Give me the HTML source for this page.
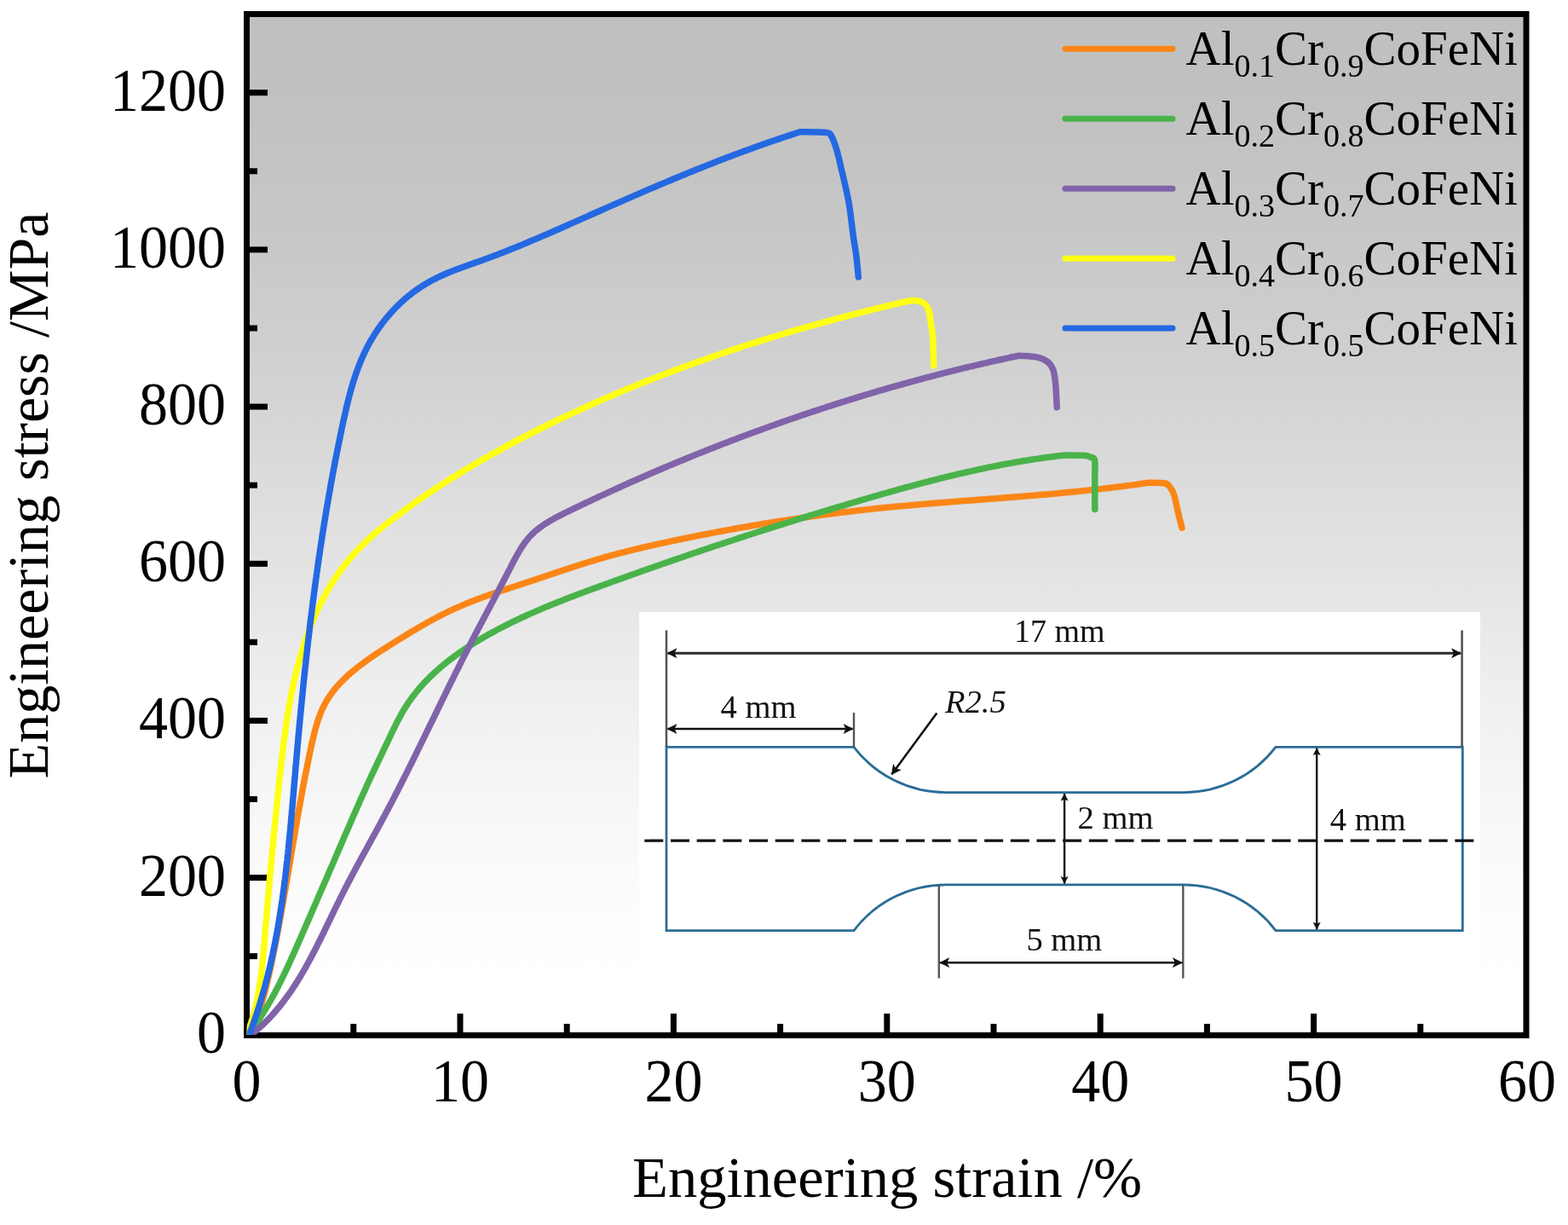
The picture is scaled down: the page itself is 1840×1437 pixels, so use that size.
<!DOCTYPE html><html><head><meta charset="utf-8"><title>Engineering stress-strain curves</title>
<style>html,body{margin:0;padding:0;background:#fff;}svg{display:block;}text{font-family:'Liberation Serif', 'Times New Roman', serif;}</style></head><body>
<svg width="1840" height="1437" viewBox="0 0 1840 1437">
<defs><linearGradient id="bg" x1="0" y1="0" x2="0" y2="1"><stop offset="0.000" stop-color="rgb(192.0,192.0,192.0)"/><stop offset="0.042" stop-color="rgb(192.3,192.3,192.3)"/><stop offset="0.083" stop-color="rgb(193.2,193.2,193.2)"/><stop offset="0.125" stop-color="rgb(194.7,194.7,194.7)"/><stop offset="0.167" stop-color="rgb(196.7,196.7,196.7)"/><stop offset="0.208" stop-color="rgb(199.1,199.1,199.1)"/><stop offset="0.250" stop-color="rgb(201.8,201.8,201.8)"/><stop offset="0.292" stop-color="rgb(205.0,205.0,205.0)"/><stop offset="0.333" stop-color="rgb(208.3,208.3,208.3)"/><stop offset="0.375" stop-color="rgb(211.9,211.9,211.9)"/><stop offset="0.417" stop-color="rgb(215.7,215.7,215.7)"/><stop offset="0.458" stop-color="rgb(219.6,219.6,219.6)"/><stop offset="0.500" stop-color="rgb(223.5,223.5,223.5)"/><stop offset="0.542" stop-color="rgb(227.4,227.4,227.4)"/><stop offset="0.583" stop-color="rgb(231.3,231.3,231.3)"/><stop offset="0.625" stop-color="rgb(235.1,235.1,235.1)"/><stop offset="0.667" stop-color="rgb(238.7,238.7,238.7)"/><stop offset="0.708" stop-color="rgb(242.0,242.0,242.0)"/><stop offset="0.750" stop-color="rgb(245.2,245.2,245.2)"/><stop offset="0.792" stop-color="rgb(247.9,247.9,247.9)"/><stop offset="0.833" stop-color="rgb(250.3,250.3,250.3)"/><stop offset="0.875" stop-color="rgb(252.3,252.3,252.3)"/><stop offset="0.917" stop-color="rgb(253.8,253.8,253.8)"/><stop offset="0.958" stop-color="rgb(254.7,254.7,254.7)"/><stop offset="1.000" stop-color="rgb(255.0,255.0,255.0)"/></linearGradient><marker id="ah" viewBox="0 0 12 12" refX="11" refY="6" markerWidth="12" markerHeight="12" markerUnits="userSpaceOnUse" orient="auto-start-reverse"><path d="M0 0 L12 6 L0 12 L3 6 Z" fill="#111"/></marker><marker id="ahs" viewBox="0 0 10 10" refX="9.5" refY="5" markerWidth="9" markerHeight="10" markerUnits="userSpaceOnUse" orient="auto-start-reverse"><path d="M0 0 L10 5 L0 10 L2 5 Z" fill="#111"/></marker><clipPath id="plotclip"><rect x="289.6" y="16.5" width="1501.4" height="1197.3"/></clipPath></defs>
<rect x="0" y="0" width="1840" height="1437" fill="#fff"/>
<rect x="293" y="20" width="1495" height="1191" fill="url(#bg)"/>
<rect x="750" y="718" width="987" height="447" fill="#fff"/>
<g fill="none" stroke-linecap="butt"><path d="M1002 876.3 L782 876.3 L782 1091.6 L1002 1091.6 A136 136 0 0 1 1110 1037.8 L1389 1037.8 A136 136 0 0 1 1497 1091.6 L1716.3 1091.6 L1716.3 876.3 L1497 876.3 A136 136 0 0 1 1389 929.6 L1110 929.6 A136 136 0 0 1 1002 876.3 Z" stroke="#2a6d97" stroke-width="2.8"/><line x1="756.3" y1="986.2" x2="1732" y2="986.2" stroke="#111" stroke-width="3.2" stroke-dasharray="22 8.68"/><line x1="782" y1="739.4" x2="782" y2="876" stroke="#555" stroke-width="2.6"/><line x1="1715.6" y1="739.4" x2="1715.6" y2="876" stroke="#555" stroke-width="2.6"/><line x1="1002" y1="836" x2="1002" y2="876" stroke="#555" stroke-width="2.4"/><line x1="1101.8" y1="1037.8" x2="1101.8" y2="1147.6" stroke="#555" stroke-width="2.4"/><line x1="1388.3" y1="1037.8" x2="1388.3" y2="1147.6" stroke="#555" stroke-width="2.4"/><line x1="783.5" y1="766.2" x2="1714" y2="766.2" stroke="#2a2a2a" stroke-width="3" marker-start="url(#ah)" marker-end="url(#ah)"/><line x1="783.5" y1="855" x2="1000.5" y2="855" stroke="#111" stroke-width="2.4" marker-start="url(#ah)" marker-end="url(#ah)"/><line x1="1249.1" y1="931" x2="1249.1" y2="1036.5" stroke="#111" stroke-width="2.4" marker-start="url(#ahs)" marker-end="url(#ahs)"/><line x1="1545.2" y1="877.6" x2="1545.2" y2="1090.3" stroke="#111" stroke-width="2.4" marker-start="url(#ahs)" marker-end="url(#ahs)"/><line x1="1103.3" y1="1129.2" x2="1386.8" y2="1129.2" stroke="#111" stroke-width="2.4" marker-start="url(#ah)" marker-end="url(#ah)"/><line x1="1099.3" y1="836.6" x2="1046.5" y2="908.3" stroke="#111" stroke-width="2.6" marker-end="url(#ah)"/></g><g fill="#111" font-size="38.6"><text x="1190" y="753.4" font-size="38">17 mm</text><text x="845.6" y="842.4">4 mm</text><text x="1109" y="835.9" font-style="italic">R2.5</text><text x="1264.6" y="971.8">2 mm</text><text x="1560.8" y="973.6">4 mm</text><text x="1204.4" y="1114.6">5 mm</text></g>
<rect x="289.5" y="16.5" width="1501.5" height="1198" fill="none" stroke="#000" stroke-width="7"/>
<rect x="411.3" y="1201.0" width="7" height="10.0" fill="#000"/><rect x="536.5" y="1189.0" width="7" height="22.0" fill="#000"/><rect x="661.7" y="1201.0" width="7" height="10.0" fill="#000"/><rect x="786.9" y="1189.0" width="7" height="22.0" fill="#000"/><rect x="912.1" y="1201.0" width="7" height="10.0" fill="#000"/><rect x="1037.3" y="1189.0" width="7" height="22.0" fill="#000"/><rect x="1162.5" y="1201.0" width="7" height="10.0" fill="#000"/><rect x="1287.7" y="1189.0" width="7" height="22.0" fill="#000"/><rect x="1412.9" y="1201.0" width="7" height="10.0" fill="#000"/><rect x="1538.1" y="1189.0" width="7" height="22.0" fill="#000"/><rect x="1663.3" y="1201.0" width="7" height="10.0" fill="#000"/><rect x="293" y="1118.2" width="9.0" height="7" fill="#000"/><rect x="293" y="1026.1" width="21.0" height="7" fill="#000"/><rect x="293" y="934.0" width="9.0" height="7" fill="#000"/><rect x="293" y="841.9" width="21.0" height="7" fill="#000"/><rect x="293" y="749.8" width="9.0" height="7" fill="#000"/><rect x="293" y="657.8" width="21.0" height="7" fill="#000"/><rect x="293" y="565.7" width="9.0" height="7" fill="#000"/><rect x="293" y="473.6" width="21.0" height="7" fill="#000"/><rect x="293" y="381.5" width="9.0" height="7" fill="#000"/><rect x="293" y="289.4" width="21.0" height="7" fill="#000"/><rect x="293" y="197.3" width="9.0" height="7" fill="#000"/><rect x="293" y="105.2" width="21.0" height="7" fill="#000"/>
<g clip-path="url(#plotclip)">
<path d="M289.9 1214.0 L291.4 1212.0 L292.8 1209.9 L294.2 1207.8 L295.4 1205.7 L296.6 1203.6 L297.8 1201.4 L298.9 1199.2 L299.9 1197.0 L300.9 1194.7 L301.9 1192.4 L302.8 1190.1 L303.6 1187.8 L304.5 1185.5 L305.2 1183.1 L306.0 1180.8 L306.7 1178.4 L307.4 1176.0 L308.1 1173.6 L308.8 1171.2 L309.4 1168.8 L310.1 1166.3 L310.7 1163.9 L311.3 1161.5 L311.9 1159.1 L312.5 1156.6 L313.1 1154.2 L313.7 1151.7 L314.2 1149.3 L314.8 1146.8 L315.4 1144.4 L315.9 1141.9 L316.5 1139.5 L317.0 1137.0 L317.6 1134.6 L318.1 1132.1 L318.6 1129.7 L319.1 1127.2 L319.7 1124.7 L320.2 1122.3 L320.7 1119.8 L321.2 1117.3 L321.7 1114.9 L322.2 1112.4 L322.6 1109.9 L323.1 1107.5 L323.6 1105.0 L324.1 1102.5 L324.6 1100.1 L325.0 1097.6 L325.5 1095.1 L326.0 1092.7 L326.4 1090.2 L326.9 1087.7 L327.3 1085.3 L327.8 1082.8 L328.2 1080.3 L328.7 1077.9 L329.1 1075.4 L329.6 1072.9 L330.0 1070.5 L330.5 1068.0 L330.9 1065.5 L331.4 1063.1 L331.8 1060.6 L332.2 1058.1 L332.7 1055.7 L333.1 1053.2 L333.5 1050.7 L333.9 1048.3 L334.4 1045.8 L334.8 1043.3 L335.2 1040.9 L335.6 1038.4 L336.1 1035.9 L336.5 1033.5 L336.9 1031.0 L337.3 1028.5 L337.7 1026.1 L338.2 1023.6 L338.6 1021.1 L339.0 1018.7 L339.4 1016.2 L339.8 1013.8 L340.2 1011.3 L340.7 1008.8 L341.1 1006.4 L341.5 1003.9 L341.9 1001.4 L342.3 999.0 L342.7 996.5 L343.2 994.1 L343.6 991.6 L344.0 989.1 L344.4 986.7 L344.8 984.2 L345.3 981.7 L345.7 979.3 L346.1 976.8 L346.5 974.4 L346.9 971.9 L347.4 969.4 L347.8 967.0 L348.2 964.5 L348.6 962.0 L349.1 959.6 L349.5 957.1 L349.9 954.7 L350.4 952.2 L350.8 949.7 L351.2 947.3 L351.7 944.8 L352.1 942.3 L352.6 939.9 L353.0 937.4 L353.5 935.0 L353.9 932.5 L354.4 930.0 L354.8 927.6 L355.3 925.1 L355.7 922.6 L356.2 920.2 L356.7 917.7 L357.1 915.2 L357.6 912.8 L358.1 910.3 L358.6 907.8 L359.1 905.4 L359.6 902.9 L360.1 900.4 L360.6 897.9 L361.1 895.5 L361.6 893.0 L362.1 890.5 L362.6 888.0 L363.1 885.6 L363.6 883.1 L364.2 880.6 L364.7 878.1 L365.2 875.6 L365.8 873.2 L366.3 870.7 L366.9 868.2 L367.5 865.7 L368.1 863.2 L368.7 860.8 L369.3 858.3 L369.9 855.8 L370.6 853.4 L371.3 851.0 L372.0 848.6 L372.8 846.2 L373.5 843.8 L374.4 841.4 L375.2 839.1 L376.1 836.8 L377.1 834.5 L378.0 832.2 L379.1 830.0 L380.2 827.8 L381.3 825.6 L382.5 823.5 L383.7 821.4 L385.0 819.3 L386.3 817.3 L387.7 815.3 L389.1 813.3 L390.6 811.3 L392.1 809.4 L393.6 807.5 L395.2 805.6 L396.9 803.8 L398.5 802.0 L400.2 800.2 L401.9 798.4 L403.7 796.7 L405.5 795.0 L407.3 793.3 L409.1 791.6 L411.0 789.9 L412.9 788.3 L414.8 786.7 L416.8 785.1 L418.7 783.5 L420.7 782.0 L422.7 780.4 L424.7 778.9 L426.7 777.4 L428.8 775.9 L430.8 774.4 L432.9 773.0 L435.0 771.5 L437.1 770.1 L439.2 768.6 L441.3 767.2 L443.4 765.8 L445.6 764.4 L447.7 763.0 L449.9 761.7 L452.0 760.3 L454.2 758.9 L456.3 757.6 L458.5 756.2 L460.6 754.9 L462.8 753.6 L464.9 752.2 L467.0 750.9 L469.2 749.6 L471.3 748.2 L473.5 746.9 L475.6 745.6 L477.7 744.3 L479.9 743.0 L482.0 741.7 L484.1 740.4 L486.3 739.2 L488.4 737.9 L490.6 736.6 L492.7 735.4 L494.9 734.1 L497.0 732.9 L499.2 731.7 L501.3 730.4 L503.5 729.2 L505.7 728.0 L507.8 726.9 L510.0 725.7 L512.2 724.5 L514.4 723.4 L516.6 722.2 L518.8 721.1 L521.0 720.0 L523.2 718.9 L525.4 717.8 L527.7 716.7 L529.9 715.7 L532.2 714.6 L534.4 713.6 L536.7 712.6 L539.0 711.6 L541.3 710.6 L543.6 709.6 L545.9 708.6 L548.2 707.7 L550.5 706.8 L552.8 705.8 L555.2 704.9 L557.5 704.0 L559.9 703.1 L562.2 702.2 L564.6 701.4 L567.0 700.5 L569.3 699.6 L571.7 698.8 L574.1 697.9 L576.5 697.1 L578.9 696.3 L581.3 695.5 L583.7 694.6 L586.1 693.8 L588.5 693.0 L590.9 692.2 L593.3 691.4 L595.7 690.6 L598.1 689.8 L600.5 689.0 L602.9 688.3 L605.3 687.5 L607.7 686.7 L610.1 685.9 L612.5 685.1 L614.9 684.3 L617.3 683.5 L619.7 682.7 L622.1 681.9 L624.5 681.1 L626.8 680.3 L629.2 679.6 L631.6 678.8 L634.0 678.0 L636.4 677.2 L638.7 676.4 L641.1 675.6 L643.5 674.8 L645.8 674.0 L648.2 673.2 L650.6 672.4 L653.0 671.6 L655.3 670.8 L657.7 670.0 L660.1 669.2 L662.4 668.4 L664.8 667.6 L667.2 666.9 L669.5 666.1 L671.9 665.3 L674.3 664.5 L676.6 663.8 L679.0 663.0 L681.4 662.3 L683.7 661.5 L686.1 660.8 L688.5 660.0 L690.9 659.3 L693.3 658.5 L695.7 657.8 L698.0 657.1 L700.4 656.4 L702.8 655.7 L705.2 655.0 L707.6 654.3 L710.0 653.6 L712.4 652.9 L714.8 652.3 L717.3 651.6 L719.7 650.9 L722.1 650.3 L724.5 649.6 L726.9 649.0 L729.4 648.4 L731.8 647.8 L734.2 647.1 L736.7 646.5 L739.1 645.9 L741.5 645.3 L744.0 644.7 L746.4 644.1 L748.9 643.5 L751.3 643.0 L753.8 642.4 L756.2 641.8 L758.7 641.3 L761.1 640.7 L763.6 640.1 L766.0 639.6 L768.5 639.0 L770.9 638.5 L773.4 637.9 L775.8 637.4 L778.3 636.9 L780.8 636.3 L783.2 635.8 L785.7 635.3 L788.2 634.8 L790.6 634.2 L793.1 633.7 L795.5 633.2 L798.0 632.7 L800.5 632.2 L802.9 631.7 L805.4 631.2 L807.9 630.7 L810.3 630.2 L812.8 629.7 L815.3 629.2 L817.7 628.7 L820.2 628.2 L822.6 627.7 L825.1 627.2 L827.6 626.8 L830.0 626.3 L832.5 625.8 L835.0 625.3 L837.4 624.9 L839.9 624.4 L842.4 623.9 L844.8 623.5 L847.3 623.0 L849.8 622.5 L852.2 622.1 L854.7 621.6 L857.2 621.2 L859.6 620.7 L862.1 620.3 L864.6 619.8 L867.0 619.4 L869.5 619.0 L872.0 618.5 L874.4 618.1 L876.9 617.7 L879.4 617.2 L881.8 616.8 L884.3 616.4 L886.8 616.0 L889.2 615.5 L891.7 615.1 L894.2 614.7 L896.6 614.3 L899.1 613.9 L901.6 613.5 L904.1 613.1 L906.5 612.7 L909.0 612.3 L911.5 611.9 L913.9 611.5 L916.4 611.1 L918.9 610.7 L921.4 610.4 L923.8 610.0 L926.3 609.6 L928.8 609.2 L931.3 608.9 L933.7 608.5 L936.2 608.1 L938.7 607.8 L941.2 607.4 L943.6 607.0 L946.1 606.7 L948.6 606.3 L951.1 606.0 L953.5 605.6 L956.0 605.3 L958.5 605.0 L961.0 604.6 L963.5 604.3 L965.9 603.9 L968.4 603.6 L970.9 603.3 L973.4 603.0 L975.9 602.6 L978.3 602.3 L980.8 602.0 L983.3 601.7 L985.8 601.4 L988.3 601.1 L990.7 600.8 L993.2 600.5 L995.7 600.2 L998.2 599.9 L1000.7 599.6 L1003.2 599.3 L1005.7 599.0 L1008.1 598.7 L1010.6 598.4 L1013.1 598.2 L1015.6 597.9 L1018.1 597.6 L1020.6 597.4 L1023.1 597.1 L1025.6 596.8 L1028.1 596.6 L1030.5 596.3 L1033.0 596.0 L1035.5 595.8 L1038.0 595.5 L1040.5 595.3 L1043.0 595.1 L1045.5 594.8 L1048.0 594.6 L1050.5 594.3 L1053.0 594.1 L1055.5 593.9 L1058.0 593.6 L1060.5 593.4 L1063.0 593.2 L1065.5 593.0 L1068.0 592.7 L1070.5 592.5 L1073.0 592.3 L1075.5 592.1 L1078.0 591.9 L1080.5 591.6 L1083.0 591.4 L1085.5 591.2 L1088.0 591.0 L1090.5 590.8 L1093.0 590.6 L1095.5 590.4 L1098.0 590.2 L1100.5 590.0 L1103.0 589.8 L1105.5 589.6 L1108.0 589.4 L1110.5 589.2 L1113.0 589.0 L1115.5 588.8 L1118.0 588.6 L1120.5 588.4 L1123.0 588.2 L1125.5 588.0 L1128.0 587.8 L1130.5 587.6 L1133.0 587.4 L1135.5 587.2 L1138.0 587.1 L1140.5 586.9 L1143.0 586.7 L1145.5 586.5 L1148.0 586.3 L1150.5 586.1 L1153.0 585.9 L1155.5 585.7 L1158.0 585.5 L1160.5 585.3 L1163.0 585.1 L1165.6 584.9 L1168.1 584.8 L1170.6 584.6 L1173.1 584.4 L1175.6 584.2 L1178.1 584.0 L1180.6 583.8 L1183.1 583.6 L1185.6 583.4 L1188.1 583.2 L1190.6 583.0 L1193.1 582.8 L1195.6 582.6 L1198.1 582.4 L1200.6 582.2 L1203.1 582.0 L1205.6 581.8 L1208.1 581.6 L1210.6 581.4 L1213.1 581.2 L1215.6 581.0 L1218.1 580.7 L1220.6 580.5 L1223.1 580.3 L1225.6 580.1 L1228.1 579.9 L1230.6 579.7 L1233.1 579.4 L1235.6 579.2 L1238.1 579.0 L1240.6 578.8 L1243.1 578.5 L1245.6 578.3 L1248.1 578.1 L1250.6 577.8 L1253.1 577.6 L1255.6 577.3 L1258.1 577.1 L1260.6 576.9 L1263.1 576.6 L1265.6 576.4 L1268.1 576.1 L1270.6 575.8 L1273.1 575.6 L1275.6 575.3 L1278.1 575.1 L1280.6 574.8 L1283.1 574.5 L1285.5 574.2 L1288.0 574.0 L1290.5 573.7 L1293.0 573.4 L1295.5 573.1 L1298.0 572.8 L1300.5 572.5 L1303.0 572.2 L1305.5 571.9 L1308.0 571.6 L1310.4 571.3 L1312.9 571.0 L1315.4 570.7 L1317.9 570.4 L1320.4 570.0 L1322.9 569.7 L1325.4 569.4 L1327.8 569.1 L1330.3 568.7 L1332.8 568.4 L1335.3 568.0 L1337.8 567.7 L1340.2 567.3 L1342.7 567.0 L1345.2 566.6 L1347.7 566.2 C1351.0 566.3 1363.0 565.9 1367.4 567.0 C1371.8 568.1 1372.2 570.5 1374.0 573.0 C1375.8 575.5 1376.9 577.4 1378.3 582.2 C1379.7 587.0 1381.1 595.6 1382.6 601.7 C1384.0 607.9 1386.3 616.2 1387.0 619.1" fill="none" stroke="#fb8617" stroke-width="7.5" stroke-linejoin="round" stroke-linecap="round"/>
<path d="M290.7 1214.6 L292.2 1212.6 L293.7 1210.7 L295.2 1208.6 L296.6 1206.6 L298.1 1204.6 L299.5 1202.6 L300.9 1200.5 L302.3 1198.5 L303.7 1196.4 L305.0 1194.3 L306.4 1192.2 L307.7 1190.1 L309.0 1188.0 L310.3 1185.9 L311.6 1183.8 L312.9 1181.6 L314.2 1179.5 L315.4 1177.3 L316.7 1175.1 L317.9 1173.0 L319.1 1170.8 L320.3 1168.6 L321.5 1166.4 L322.7 1164.2 L323.8 1162.0 L325.0 1159.8 L326.1 1157.6 L327.3 1155.3 L328.4 1153.1 L329.5 1150.9 L330.6 1148.6 L331.7 1146.4 L332.8 1144.1 L333.9 1141.8 L335.0 1139.6 L336.0 1137.3 L337.1 1135.0 L338.2 1132.8 L339.2 1130.5 L340.3 1128.2 L341.3 1125.9 L342.3 1123.6 L343.4 1121.4 L344.4 1119.1 L345.4 1116.8 L346.4 1114.5 L347.4 1112.2 L348.5 1109.9 L349.5 1107.6 L350.5 1105.3 L351.5 1103.0 L352.5 1100.7 L353.5 1098.4 L354.5 1096.1 L355.5 1093.8 L356.5 1091.5 L357.5 1089.2 L358.5 1086.9 L359.5 1084.6 L360.5 1082.3 L361.5 1080.1 L362.5 1077.8 L363.5 1075.5 L364.5 1073.2 L365.5 1070.9 L366.5 1068.6 L367.5 1066.3 L368.5 1064.0 L369.5 1061.7 L370.5 1059.4 L371.5 1057.2 L372.4 1054.9 L373.4 1052.6 L374.4 1050.3 L375.4 1048.0 L376.4 1045.7 L377.4 1043.4 L378.4 1041.1 L379.4 1038.9 L380.4 1036.6 L381.4 1034.3 L382.4 1032.0 L383.4 1029.7 L384.4 1027.4 L385.3 1025.1 L386.3 1022.9 L387.3 1020.6 L388.3 1018.3 L389.3 1016.0 L390.3 1013.7 L391.3 1011.4 L392.3 1009.1 L393.3 1006.8 L394.2 1004.6 L395.2 1002.3 L396.2 1000.0 L397.2 997.7 L398.2 995.4 L399.2 993.1 L400.2 990.8 L401.2 988.5 L402.1 986.2 L403.1 983.9 L404.1 981.6 L405.1 979.3 L406.1 977.1 L407.1 974.8 L408.1 972.5 L409.1 970.2 L410.1 967.9 L411.1 965.6 L412.1 963.3 L413.0 961.0 L414.0 958.7 L415.0 956.4 L416.0 954.1 L417.1 951.8 L418.1 949.5 L419.1 947.2 L420.1 945.0 L421.1 942.7 L422.1 940.4 L423.1 938.1 L424.1 935.8 L425.2 933.5 L426.2 931.2 L427.2 928.9 L428.2 926.7 L429.3 924.4 L430.3 922.1 L431.3 919.8 L432.4 917.5 L433.4 915.3 L434.5 913.0 L435.5 910.7 L436.6 908.4 L437.7 906.2 L438.7 903.9 L439.8 901.6 L440.9 899.4 L442.0 897.1 L443.0 894.8 L444.1 892.6 L445.2 890.3 L446.3 888.0 L447.4 885.8 L448.5 883.5 L449.5 881.2 L450.6 878.9 L451.7 876.7 L452.8 874.4 L453.9 872.1 L455.0 869.8 L456.1 867.5 L457.2 865.2 L458.3 862.9 L459.3 860.6 L460.4 858.3 L461.5 856.1 L462.6 853.8 L463.8 851.5 L464.9 849.2 L466.0 847.0 L467.2 844.7 L468.4 842.5 L469.6 840.2 L470.8 838.0 L472.0 835.8 L473.3 833.7 L474.6 831.5 L475.9 829.4 L477.3 827.3 L478.6 825.2 L480.0 823.2 L481.5 821.1 L482.9 819.1 L484.4 817.1 L485.9 815.2 L487.4 813.2 L489.0 811.3 L490.5 809.4 L492.1 807.5 L493.7 805.6 L495.4 803.8 L497.0 801.9 L498.7 800.1 L500.4 798.4 L502.1 796.6 L503.9 794.8 L505.7 793.1 L507.4 791.4 L509.2 789.7 L511.1 788.0 L512.9 786.4 L514.8 784.7 L516.6 783.1 L518.5 781.5 L520.4 779.9 L522.3 778.3 L524.3 776.8 L526.2 775.2 L528.2 773.7 L530.2 772.2 L532.2 770.7 L534.2 769.2 L536.2 767.8 L538.2 766.3 L540.3 764.9 L542.3 763.5 L544.4 762.1 L546.5 760.7 L548.6 759.3 L550.7 758.0 L552.8 756.6 L554.9 755.3 L557.0 754.0 L559.1 752.6 L561.3 751.4 L563.4 750.1 L565.6 748.8 L567.7 747.5 L569.9 746.3 L572.1 745.0 L574.2 743.8 L576.4 742.6 L578.6 741.4 L580.8 740.2 L583.0 739.0 L585.2 737.9 L587.4 736.7 L589.7 735.5 L591.9 734.4 L594.1 733.3 L596.4 732.1 L598.6 731.0 L600.8 729.9 L603.1 728.8 L605.4 727.8 L607.6 726.7 L609.9 725.6 L612.2 724.5 L614.4 723.5 L616.7 722.5 L619.0 721.4 L621.3 720.4 L623.6 719.4 L625.9 718.4 L628.2 717.4 L630.5 716.4 L632.8 715.4 L635.1 714.4 L637.4 713.4 L639.8 712.4 L642.1 711.5 L644.4 710.5 L646.7 709.6 L649.1 708.6 L651.4 707.7 L653.7 706.7 L656.1 705.8 L658.4 704.9 L660.8 704.0 L663.1 703.0 L665.5 702.1 L667.8 701.2 L670.2 700.3 L672.5 699.4 L674.9 698.5 L677.2 697.6 L679.6 696.7 L682.0 695.8 L684.3 695.0 L686.7 694.1 L689.0 693.2 L691.4 692.3 L693.8 691.5 L696.1 690.6 L698.5 689.7 L700.9 688.9 L703.2 688.0 L705.6 687.1 L708.0 686.3 L710.3 685.4 L712.7 684.5 L715.1 683.7 L717.4 682.8 L719.8 682.0 L722.2 681.1 L724.5 680.3 L726.9 679.4 L729.3 678.6 L731.6 677.7 L734.0 676.9 L736.4 676.0 L738.7 675.2 L741.1 674.3 L743.5 673.5 L745.8 672.7 L748.2 671.8 L750.6 671.0 L752.9 670.1 L755.3 669.3 L757.7 668.5 L760.0 667.6 L762.4 666.8 L764.8 666.0 L767.1 665.2 L769.5 664.3 L771.9 663.5 L774.2 662.7 L776.6 661.8 L779.0 661.0 L781.3 660.2 L783.7 659.4 L786.1 658.6 L788.4 657.7 L790.8 656.9 L793.2 656.1 L795.5 655.3 L797.9 654.5 L800.3 653.7 L802.7 652.9 L805.0 652.0 L807.4 651.2 L809.8 650.4 L812.1 649.6 L814.5 648.8 L816.9 648.0 L819.2 647.2 L821.6 646.4 L824.0 645.6 L826.4 644.8 L828.7 644.0 L831.1 643.2 L833.5 642.4 L835.9 641.6 L838.2 640.8 L840.6 640.0 L843.0 639.3 L845.3 638.5 L847.7 637.7 L850.1 636.9 L852.5 636.1 L854.8 635.3 L857.2 634.5 L859.6 633.8 L862.0 633.0 L864.3 632.2 L866.7 631.4 L869.1 630.6 L871.5 629.9 L873.9 629.1 L876.2 628.3 L878.6 627.5 L881.0 626.8 L883.4 626.0 L885.8 625.2 L888.1 624.5 L890.5 623.7 L892.9 622.9 L895.3 622.2 L897.7 621.4 L900.0 620.6 L902.4 619.9 L904.8 619.1 L907.2 618.4 L909.6 617.6 L912.0 616.9 L914.3 616.1 L916.7 615.3 L919.1 614.6 L921.5 613.8 L923.9 613.1 L926.3 612.3 L928.7 611.6 L931.1 610.9 L933.4 610.1 L935.8 609.4 L938.2 608.6 L940.6 607.9 L943.0 607.1 L945.4 606.4 L947.8 605.7 L950.2 604.9 L952.6 604.2 L955.0 603.5 L957.4 602.7 L959.8 602.0 L962.2 601.3 L964.5 600.5 L966.9 599.8 L969.3 599.1 L971.7 598.3 L974.1 597.6 L976.5 596.9 L978.9 596.2 L981.3 595.4 L983.7 594.7 L986.1 594.0 L988.5 593.3 L991.0 592.6 L993.4 591.9 L995.8 591.1 L998.2 590.4 L1000.6 589.7 L1003.0 589.0 L1005.4 588.3 L1007.8 587.6 L1010.2 586.9 L1012.6 586.2 L1015.0 585.5 L1017.4 584.8 L1019.8 584.0 L1022.3 583.3 L1024.7 582.6 L1027.1 582.0 L1029.5 581.3 L1031.9 580.6 L1034.3 579.9 L1036.7 579.2 L1039.2 578.5 L1041.6 577.8 L1044.0 577.1 L1046.4 576.4 L1048.8 575.8 L1051.3 575.1 L1053.7 574.4 L1056.1 573.7 L1058.5 573.1 L1061.0 572.4 L1063.4 571.7 L1065.8 571.1 L1068.2 570.4 L1070.7 569.8 L1073.1 569.1 L1075.5 568.5 L1077.9 567.8 L1080.4 567.2 L1082.8 566.5 L1085.2 565.9 L1087.7 565.3 L1090.1 564.6 L1092.5 564.0 L1095.0 563.4 L1097.4 562.8 L1099.8 562.2 L1102.3 561.5 L1104.7 560.9 L1107.1 560.3 L1109.6 559.7 L1112.0 559.1 L1114.5 558.5 L1116.9 558.0 L1119.3 557.4 L1121.8 556.8 L1124.2 556.2 L1126.7 555.6 L1129.1 555.1 L1131.6 554.5 L1134.0 554.0 L1136.5 553.4 L1138.9 552.9 L1141.4 552.3 L1143.8 551.8 L1146.3 551.2 L1148.7 550.7 L1151.2 550.2 L1153.6 549.7 L1156.1 549.1 L1158.5 548.6 L1161.0 548.1 L1163.4 547.6 L1165.9 547.1 L1168.3 546.6 L1170.8 546.2 L1173.3 545.7 L1175.7 545.2 L1178.2 544.7 L1180.6 544.3 L1183.1 543.8 L1185.6 543.4 L1188.0 542.9 L1190.5 542.5 L1193.0 542.0 L1195.4 541.6 L1197.9 541.2 L1200.4 540.8 L1202.8 540.4 L1205.3 540.0 L1207.8 539.6 L1210.2 539.2 L1212.7 538.8 L1215.2 538.4 L1217.6 538.1 L1220.1 537.7 L1222.6 537.3 L1225.1 537.0 L1227.5 536.6 L1230.0 536.3 L1232.5 536.0 L1235.0 535.7 L1237.5 535.3 L1239.9 535.0 L1242.4 534.7 L1244.9 534.4 L1247.4 534.2 L1249.9 533.9 C1253.5 533.9 1266.8 533.9 1271.7 534.3 C1276.6 534.7 1276.9 535.1 1279.0 536.0 C1281.1 536.9 1283.5 535.8 1284.5 539.5 C1285.5 543.2 1284.8 548.3 1284.8 558.0 C1284.8 567.7 1284.8 590.9 1284.8 597.5" fill="none" stroke="#49b34a" stroke-width="7.5" stroke-linejoin="round" stroke-linecap="round"/>
<path d="M291.1 1216.3 L293.1 1214.8 L295.1 1213.3 L297.1 1211.7 L299.0 1210.2 L300.9 1208.6 L302.8 1207.0 L304.6 1205.3 L306.5 1203.7 L308.3 1202.0 L310.1 1200.3 L311.8 1198.6 L313.6 1196.8 L315.3 1195.1 L317.0 1193.3 L318.7 1191.5 L320.3 1189.7 L321.9 1187.9 L323.6 1186.0 L325.1 1184.1 L326.7 1182.3 L328.3 1180.4 L329.8 1178.4 L331.3 1176.5 L332.8 1174.6 L334.3 1172.6 L335.8 1170.6 L337.2 1168.6 L338.7 1166.6 L340.1 1164.6 L341.5 1162.6 L342.9 1160.5 L344.2 1158.5 L345.6 1156.4 L346.9 1154.3 L348.3 1152.2 L349.6 1150.1 L350.9 1148.0 L352.2 1145.9 L353.4 1143.7 L354.7 1141.6 L356.0 1139.4 L357.2 1137.3 L358.5 1135.1 L359.7 1132.9 L360.9 1130.7 L362.1 1128.5 L363.3 1126.3 L364.5 1124.1 L365.7 1121.9 L366.8 1119.6 L368.0 1117.4 L369.2 1115.2 L370.3 1112.9 L371.5 1110.7 L372.6 1108.4 L373.7 1106.1 L374.9 1103.9 L376.0 1101.6 L377.1 1099.3 L378.2 1097.1 L379.4 1094.8 L380.5 1092.5 L381.6 1090.2 L382.7 1088.0 L383.8 1085.7 L384.9 1083.4 L386.0 1081.1 L387.1 1078.8 L388.2 1076.5 L389.3 1074.3 L390.4 1072.0 L391.5 1069.7 L392.6 1067.4 L393.7 1065.1 L394.8 1062.9 L396.0 1060.6 L397.1 1058.3 L398.2 1056.0 L399.3 1053.8 L400.4 1051.5 L401.6 1049.3 L402.7 1047.0 L403.9 1044.8 L405.0 1042.5 L406.1 1040.3 L407.3 1038.1 L408.5 1035.8 L409.6 1033.6 L410.8 1031.4 L412.0 1029.2 L413.1 1026.9 L414.3 1024.7 L415.5 1022.5 L416.7 1020.3 L417.9 1018.1 L419.0 1015.9 L420.2 1013.7 L421.4 1011.5 L422.6 1009.3 L423.8 1007.1 L425.0 1004.9 L426.2 1002.7 L427.4 1000.5 L428.6 998.4 L429.8 996.2 L431.0 994.0 L432.2 991.8 L433.4 989.6 L434.6 987.4 L435.8 985.2 L437.0 983.0 L438.2 980.9 L439.4 978.7 L440.6 976.5 L441.8 974.3 L443.0 972.1 L444.2 969.9 L445.4 967.7 L446.6 965.5 L447.7 963.3 L448.9 961.1 L450.1 958.9 L451.3 956.7 L452.5 954.5 L453.6 952.3 L454.8 950.1 L456.0 947.9 L457.1 945.7 L458.3 943.5 L459.5 941.3 L460.6 939.1 L461.8 936.8 L462.9 934.6 L464.1 932.4 L465.2 930.2 L466.4 927.9 L467.5 925.7 L468.6 923.5 L469.8 921.2 L470.9 919.0 L472.0 916.8 L473.2 914.5 L474.3 912.3 L475.4 910.0 L476.6 907.8 L477.7 905.6 L478.8 903.3 L479.9 901.1 L481.0 898.8 L482.2 896.6 L483.3 894.3 L484.4 892.1 L485.5 889.8 L486.6 887.6 L487.7 885.3 L488.8 883.1 L489.9 880.8 L491.0 878.6 L492.2 876.3 L493.3 874.0 L494.4 871.8 L495.5 869.5 L496.6 867.3 L497.7 865.0 L498.8 862.8 L499.9 860.5 L501.0 858.2 L502.1 856.0 L503.2 853.7 L504.3 851.5 L505.4 849.2 L506.5 847.0 L507.6 844.7 L508.7 842.4 L509.8 840.2 L510.9 837.9 L512.0 835.7 L513.1 833.4 L514.2 831.1 L515.3 828.9 L516.4 826.6 L517.5 824.4 L518.6 822.1 L519.7 819.9 L520.8 817.6 L521.9 815.4 L523.0 813.1 L524.1 810.9 L525.2 808.6 L526.3 806.4 L527.4 804.1 L528.5 801.9 L529.6 799.6 L530.8 797.4 L531.9 795.1 L533.0 792.9 L534.1 790.6 L535.2 788.4 L536.3 786.2 L537.5 783.9 L538.6 781.7 L539.7 779.5 L540.8 777.2 L541.9 775.0 L543.1 772.8 L544.2 770.5 L545.3 768.3 L546.5 766.1 L547.6 763.9 L548.7 761.6 L549.9 759.4 L551.0 757.2 L552.2 755.0 L553.3 752.8 L554.5 750.6 L555.6 748.4 L556.8 746.2 L557.9 743.9 L559.1 741.7 L560.2 739.5 L561.4 737.3 L562.6 735.1 L563.7 732.9 L564.9 730.7 L566.0 728.5 L567.2 726.3 L568.4 724.1 L569.5 721.9 L570.7 719.7 L571.9 717.5 L573.0 715.3 L574.2 713.1 L575.4 710.9 L576.5 708.7 L577.7 706.5 L578.9 704.3 L580.0 702.1 L581.2 699.8 L582.4 697.6 L583.5 695.4 L584.7 693.2 L585.9 691.0 L587.0 688.8 L588.2 686.5 L589.4 684.3 L590.5 682.1 L591.7 679.8 L592.9 677.6 L594.0 675.4 L595.2 673.1 L596.3 670.9 L597.5 668.7 L598.7 666.4 L599.8 664.1 L601.0 661.9 L602.1 659.6 L603.3 657.4 L604.5 655.2 L605.7 653.0 L606.9 650.8 L608.2 648.6 L609.4 646.4 L610.7 644.3 L612.0 642.2 L613.4 640.1 L614.8 638.1 L616.2 636.1 L617.7 634.2 L619.2 632.3 L620.8 630.4 L622.4 628.7 L624.1 626.9 L625.9 625.2 L627.6 623.6 L629.5 622.0 L631.4 620.5 L633.3 619.0 L635.3 617.6 L637.3 616.2 L639.3 614.8 L641.4 613.5 L643.5 612.2 L645.6 610.9 L647.8 609.7 L650.0 608.4 L652.2 607.2 L654.4 606.1 L656.7 604.9 L658.9 603.8 L661.2 602.6 L663.4 601.5 L665.7 600.4 L668.0 599.3 L670.3 598.2 L672.5 597.1 L674.8 596.0 L677.1 594.9 L679.4 593.8 L681.7 592.7 L683.9 591.6 L686.2 590.5 L688.5 589.4 L690.8 588.4 L693.1 587.3 L695.3 586.2 L697.6 585.1 L699.9 584.1 L702.2 583.0 L704.5 581.9 L706.8 580.9 L709.1 579.8 L711.3 578.8 L713.6 577.7 L715.9 576.7 L718.2 575.6 L720.5 574.6 L722.8 573.5 L725.1 572.5 L727.4 571.5 L729.7 570.4 L731.9 569.4 L734.2 568.4 L736.5 567.3 L738.8 566.3 L741.1 565.3 L743.4 564.3 L745.7 563.3 L748.0 562.2 L750.3 561.2 L752.6 560.2 L754.9 559.2 L757.2 558.2 L759.5 557.2 L761.8 556.2 L764.1 555.2 L766.4 554.2 L768.7 553.3 L771.0 552.3 L773.3 551.3 L775.6 550.3 L777.9 549.3 L780.2 548.3 L782.5 547.4 L784.8 546.4 L787.1 545.4 L789.5 544.5 L791.8 543.5 L794.1 542.5 L796.4 541.6 L798.7 540.6 L801.0 539.7 L803.3 538.7 L805.6 537.8 L808.0 536.8 L810.3 535.9 L812.6 534.9 L814.9 534.0 L817.2 533.1 L819.6 532.1 L821.9 531.2 L824.2 530.3 L826.5 529.4 L828.9 528.4 L831.2 527.5 L833.5 526.6 L835.8 525.7 L838.2 524.8 L840.5 523.8 L842.8 522.9 L845.2 522.0 L847.5 521.1 L849.8 520.2 L852.2 519.3 L854.5 518.4 L856.8 517.5 L859.2 516.6 L861.5 515.8 L863.9 514.9 L866.2 514.0 L868.5 513.1 L870.9 512.2 L873.2 511.3 L875.6 510.5 L877.9 509.6 L880.3 508.7 L882.6 507.8 L885.0 507.0 L887.3 506.1 L889.7 505.3 L892.0 504.4 L894.4 503.5 L896.8 502.7 L899.1 501.8 L901.5 501.0 L903.8 500.1 L906.2 499.3 L908.6 498.5 L910.9 497.6 L913.3 496.8 L915.6 495.9 L918.0 495.1 L920.4 494.3 L922.7 493.5 L925.1 492.6 L927.5 491.8 L929.8 491.0 L932.2 490.2 L934.6 489.4 L937.0 488.5 L939.3 487.7 L941.7 486.9 L944.1 486.1 L946.5 485.3 L948.8 484.5 L951.2 483.7 L953.6 482.9 L956.0 482.1 L958.4 481.4 L960.8 480.6 L963.1 479.8 L965.5 479.0 L967.9 478.2 L970.3 477.4 L972.7 476.7 L975.1 475.9 L977.5 475.1 L979.8 474.4 L982.2 473.6 L984.6 472.8 L987.0 472.1 L989.4 471.3 L991.8 470.6 L994.2 469.8 L996.6 469.1 L999.0 468.3 L1001.4 467.6 L1003.8 466.9 L1006.2 466.1 L1008.6 465.4 L1011.0 464.7 L1013.4 463.9 L1015.8 463.2 L1018.2 462.5 L1020.6 461.8 L1023.0 461.0 L1025.4 460.3 L1027.8 459.6 L1030.2 458.9 L1032.6 458.2 L1035.1 457.5 L1037.5 456.8 L1039.9 456.1 L1042.3 455.4 L1044.7 454.7 L1047.1 454.0 L1049.5 453.3 L1051.9 452.6 L1054.4 452.0 L1056.8 451.3 L1059.2 450.6 L1061.6 449.9 L1064.0 449.3 L1066.4 448.6 L1068.9 447.9 L1071.3 447.3 L1073.7 446.6 L1076.1 445.9 L1078.5 445.3 L1081.0 444.6 L1083.4 444.0 L1085.8 443.3 L1088.2 442.7 L1090.7 442.1 L1093.1 441.4 L1095.5 440.8 L1097.9 440.2 L1100.4 439.5 L1102.8 438.9 L1105.2 438.3 L1107.7 437.7 L1110.1 437.0 L1112.5 436.4 L1115.0 435.8 L1117.4 435.2 L1119.8 434.6 L1122.3 434.0 L1124.7 433.4 L1127.1 432.8 L1129.6 432.2 L1132.0 431.6 L1134.4 431.0 L1136.9 430.4 L1139.3 429.9 L1141.8 429.3 L1144.2 428.7 L1146.6 428.1 L1149.1 427.6 L1151.5 427.0 L1154.0 426.4 L1156.4 425.9 L1158.8 425.3 L1161.3 424.7 L1163.7 424.2 L1166.2 423.6 L1168.6 423.1 L1171.1 422.5 L1173.5 422.0 L1175.9 421.5 L1178.4 420.9 L1180.8 420.4 L1183.3 419.9 L1185.7 419.3 L1188.2 418.8 L1190.6 418.3 L1193.1 417.8 L1195.5 417.3 C1199.2 417.6 1211.7 417.8 1217.4 419.1 C1223.1 420.4 1227.0 422.7 1230.0 425.0 C1233.0 427.3 1234.2 430.0 1235.5 433.0 C1236.8 436.0 1237.2 439.1 1237.8 443.0 C1238.4 446.9 1238.7 450.3 1239.1 456.1 C1239.5 461.9 1240.0 474.2 1240.2 477.8" fill="none" stroke="#8063a9" stroke-width="7.5" stroke-linejoin="round" stroke-linecap="round"/>
<path d="M289.6 1213.8 L290.5 1211.5 L291.4 1209.1 L292.3 1206.8 L293.1 1204.4 L293.9 1202.0 L294.7 1199.6 L295.4 1197.3 L296.2 1194.9 L296.9 1192.5 L297.6 1190.0 L298.2 1187.6 L298.8 1185.2 L299.4 1182.8 L300.0 1180.3 L300.6 1177.9 L301.1 1175.5 L301.6 1173.0 L302.1 1170.5 L302.6 1168.1 L303.1 1165.6 L303.5 1163.2 L303.9 1160.7 L304.3 1158.2 L304.7 1155.7 L305.1 1153.2 L305.5 1150.7 L305.8 1148.3 L306.1 1145.8 L306.5 1143.3 L306.8 1140.8 L307.1 1138.3 L307.4 1135.8 L307.6 1133.2 L307.9 1130.7 L308.2 1128.2 L308.4 1125.7 L308.6 1123.2 L308.9 1120.7 L309.1 1118.2 L309.3 1115.7 L309.5 1113.2 L309.8 1110.7 L310.0 1108.1 L310.2 1105.6 L310.4 1103.1 L310.6 1100.6 L310.8 1098.1 L311.0 1095.6 L311.2 1093.1 L311.4 1090.6 L311.6 1088.1 L311.8 1085.6 L312.0 1083.1 L312.2 1080.6 L312.4 1078.1 L312.7 1075.6 L312.9 1073.1 L313.1 1070.7 L313.3 1068.2 L313.5 1065.7 L313.7 1063.2 L313.9 1060.7 L314.1 1058.2 L314.4 1055.8 L314.6 1053.3 L314.8 1050.8 L315.0 1048.3 L315.2 1045.8 L315.4 1043.4 L315.7 1040.9 L315.9 1038.4 L316.1 1035.9 L316.3 1033.5 L316.5 1031.0 L316.8 1028.5 L317.0 1026.0 L317.2 1023.6 L317.4 1021.1 L317.7 1018.6 L317.9 1016.1 L318.1 1013.7 L318.3 1011.2 L318.6 1008.7 L318.8 1006.3 L319.0 1003.8 L319.3 1001.3 L319.5 998.8 L319.7 996.4 L320.0 993.9 L320.2 991.4 L320.4 988.9 L320.7 986.5 L320.9 984.0 L321.2 981.5 L321.4 979.0 L321.6 976.6 L321.9 974.1 L322.1 971.6 L322.4 969.1 L322.6 966.7 L322.9 964.2 L323.1 961.7 L323.4 959.2 L323.6 956.7 L323.9 954.2 L324.1 951.8 L324.4 949.3 L324.6 946.8 L324.9 944.3 L325.1 941.8 L325.4 939.3 L325.6 936.8 L325.9 934.3 L326.2 931.8 L326.4 929.3 L326.7 926.8 L326.9 924.3 L327.2 921.8 L327.5 919.3 L327.7 916.8 L328.0 914.3 L328.3 911.8 L328.5 909.3 L328.8 906.7 L329.1 904.2 L329.4 901.7 L329.6 899.2 L329.9 896.7 L330.2 894.1 L330.5 891.6 L330.8 889.1 L331.1 886.6 L331.4 884.1 L331.7 881.5 L332.0 879.0 L332.3 876.5 L332.6 874.0 L332.9 871.4 L333.2 868.9 L333.6 866.4 L333.9 863.9 L334.3 861.4 L334.6 858.8 L335.0 856.3 L335.3 853.8 L335.7 851.3 L336.0 848.8 L336.4 846.3 L336.8 843.8 L337.2 841.3 L337.6 838.7 L338.0 836.2 L338.4 833.7 L338.8 831.2 L339.3 828.7 L339.7 826.3 L340.2 823.8 L340.6 821.3 L341.1 818.8 L341.6 816.3 L342.0 813.8 L342.5 811.3 L343.0 808.9 L343.5 806.4 L344.1 803.9 L344.6 801.5 L345.1 799.0 L345.7 796.6 L346.3 794.1 L346.8 791.7 L347.4 789.2 L348.0 786.8 L348.6 784.3 L349.2 781.9 L349.9 779.5 L350.5 777.1 L351.2 774.7 L351.9 772.3 L352.5 769.8 L353.2 767.5 L353.9 765.1 L354.7 762.7 L355.4 760.3 L356.2 757.9 L356.9 755.6 L357.7 753.2 L358.5 750.8 L359.3 748.5 L360.1 746.1 L361.0 743.8 L361.8 741.5 L362.7 739.2 L363.6 736.8 L364.5 734.5 L365.4 732.2 L366.3 729.9 L367.2 727.7 L368.2 725.4 L369.2 723.1 L370.2 720.8 L371.2 718.6 L372.2 716.3 L373.3 714.1 L374.4 711.9 L375.4 709.7 L376.5 707.4 L377.7 705.2 L378.8 703.0 L380.0 700.9 L381.1 698.7 L382.3 696.5 L383.5 694.4 L384.8 692.2 L386.0 690.1 L387.3 687.9 L388.6 685.8 L389.9 683.7 L391.2 681.6 L392.6 679.6 L394.0 677.5 L395.4 675.4 L396.8 673.4 L398.2 671.4 L399.6 669.3 L401.1 667.3 L402.6 665.4 L404.1 663.4 L405.6 661.4 L407.2 659.5 L408.7 657.6 L410.3 655.6 L411.9 653.7 L413.6 651.9 L415.2 650.0 L416.9 648.2 L418.6 646.3 L420.3 644.5 L422.0 642.7 L423.7 640.9 L425.5 639.2 L427.3 637.4 L429.1 635.7 L430.9 634.0 L432.7 632.3 L434.6 630.6 L436.5 628.9 L438.3 627.3 L440.2 625.6 L442.1 624.0 L444.0 622.4 L446.0 620.8 L447.9 619.2 L449.9 617.6 L451.8 616.0 L453.8 614.4 L455.8 612.9 L457.7 611.3 L459.7 609.8 L461.7 608.2 L463.7 606.7 L465.7 605.2 L467.8 603.7 L469.8 602.2 L471.8 600.7 L473.8 599.2 L475.9 597.7 L477.9 596.2 L479.9 594.7 L482.0 593.2 L484.0 591.8 L486.1 590.3 L488.1 588.9 L490.2 587.4 L492.2 586.0 L494.3 584.6 L496.4 583.1 L498.5 581.7 L500.5 580.3 L502.6 578.9 L504.7 577.5 L506.8 576.1 L508.9 574.7 L511.0 573.3 L513.1 571.9 L515.2 570.5 L517.3 569.1 L519.4 567.8 L521.5 566.4 L523.6 565.1 L525.7 563.7 L527.8 562.4 L530.0 561.0 L532.1 559.7 L534.2 558.4 L536.4 557.0 L538.5 555.7 L540.6 554.4 L542.8 553.1 L544.9 551.8 L547.1 550.5 L549.2 549.2 L551.4 547.9 L553.5 546.6 L555.7 545.3 L557.9 544.1 L560.0 542.8 L562.2 541.5 L564.4 540.3 L566.5 539.0 L568.7 537.8 L570.9 536.5 L573.1 535.3 L575.3 534.1 L577.4 532.8 L579.6 531.6 L581.8 530.4 L584.0 529.2 L586.2 527.9 L588.4 526.7 L590.6 525.5 L592.8 524.3 L595.0 523.1 L597.2 521.9 L599.5 520.8 L601.7 519.6 L603.9 518.4 L606.1 517.2 L608.3 516.1 L610.5 514.9 L612.8 513.7 L615.0 512.6 L617.2 511.4 L619.4 510.3 L621.7 509.1 L623.9 508.0 L626.2 506.9 L628.4 505.7 L630.6 504.6 L632.9 503.5 L635.1 502.3 L637.4 501.2 L639.6 500.1 L641.9 499.0 L644.1 497.9 L646.4 496.8 L648.6 495.7 L650.9 494.6 L653.1 493.5 L655.4 492.4 L657.6 491.3 L659.9 490.3 L662.2 489.2 L664.4 488.1 L666.7 487.1 L669.0 486.0 L671.2 484.9 L673.5 483.9 L675.8 482.8 L678.0 481.8 L680.3 480.7 L682.6 479.7 L684.9 478.6 L687.2 477.6 L689.4 476.6 L691.7 475.5 L694.0 474.5 L696.3 473.5 L698.6 472.5 L700.9 471.5 L703.2 470.5 L705.5 469.4 L707.8 468.4 L710.1 467.4 L712.4 466.4 L714.7 465.5 L717.0 464.5 L719.3 463.5 L721.6 462.5 L723.9 461.5 L726.2 460.5 L728.5 459.6 L730.8 458.6 L733.1 457.6 L735.4 456.7 L737.7 455.7 L740.0 454.8 L742.4 453.8 L744.7 452.9 L747.0 451.9 L749.3 451.0 L751.6 450.0 L754.0 449.1 L756.3 448.2 L758.6 447.2 L760.9 446.3 L763.3 445.4 L765.6 444.5 L767.9 443.6 L770.3 442.7 L772.6 441.7 L774.9 440.8 L777.3 439.9 L779.6 439.0 L781.9 438.2 L784.3 437.3 L786.6 436.4 L789.0 435.5 L791.3 434.6 L793.7 433.7 L796.0 432.9 L798.4 432.0 L800.7 431.1 L803.1 430.2 L805.4 429.4 L807.8 428.5 L810.1 427.7 L812.5 426.8 L814.8 426.0 L817.2 425.1 L819.5 424.3 L821.9 423.4 L824.3 422.6 L826.6 421.8 L829.0 420.9 L831.4 420.1 L833.7 419.3 L836.1 418.5 L838.5 417.6 L840.8 416.8 L843.2 416.0 L845.6 415.2 L847.9 414.4 L850.3 413.6 L852.7 412.8 L855.1 412.0 L857.4 411.2 L859.8 410.4 L862.2 409.6 L864.6 408.8 L867.0 408.1 L869.3 407.3 L871.7 406.5 L874.1 405.7 L876.5 405.0 L878.9 404.2 L881.3 403.4 L883.7 402.7 L886.1 401.9 L888.4 401.2 L890.8 400.4 L893.2 399.6 L895.6 398.9 L898.0 398.2 L900.4 397.4 L902.8 396.7 L905.2 395.9 L907.6 395.2 L910.0 394.5 L912.4 393.8 L914.8 393.0 L917.2 392.3 L919.6 391.6 L922.0 390.9 L924.4 390.2 L926.8 389.4 L929.2 388.7 L931.6 388.0 L934.0 387.3 L936.4 386.6 L938.8 385.9 L941.3 385.2 L943.7 384.5 L946.1 383.9 L948.5 383.2 L950.9 382.5 L953.3 381.8 L955.7 381.1 L958.1 380.5 L960.6 379.8 L963.0 379.1 L965.4 378.4 L967.8 377.8 L970.2 377.1 L972.7 376.5 L975.1 375.8 L977.5 375.1 L979.9 374.5 L982.3 373.8 L984.8 373.2 L987.2 372.6 L989.6 371.9 L992.0 371.3 L994.5 370.6 L996.9 370.0 L999.3 369.4 L1001.8 368.7 L1004.2 368.1 L1006.6 367.5 L1009.0 366.9 L1011.5 366.3 L1013.9 365.6 L1016.3 365.0 L1018.8 364.4 L1021.2 363.8 L1023.6 363.2 L1026.1 362.6 L1028.5 362.0 L1030.9 361.4 L1033.4 360.8 L1035.8 360.2 L1038.2 359.6 L1040.7 359.0 L1043.1 358.4 L1045.6 357.8 L1048.0 357.3 L1050.4 356.7 L1052.9 356.1 L1055.3 355.5 L1057.8 354.9 L1060.2 354.4 L1062.7 353.8 L1065.1 353.2 C1066.6 353.1 1070.7 352.0 1074.0 352.5 C1077.3 353.0 1082.1 354.0 1084.8 356.1 C1087.5 358.2 1088.7 361.0 1090.0 365.0 C1091.3 369.0 1091.7 375.0 1092.5 380.0 C1093.3 385.0 1094.1 387.1 1094.6 395.2 C1095.1 403.3 1095.5 423.3 1095.7 428.9" fill="none" stroke="#ffff14" stroke-width="7.5" stroke-linejoin="round" stroke-linecap="round"/>
<path d="M291.9 1215.0 L292.8 1212.7 L293.7 1210.3 L294.6 1208.0 L295.4 1205.7 L296.3 1203.3 L297.1 1201.0 L298.0 1198.7 L298.8 1196.3 L299.6 1194.0 L300.4 1191.6 L301.2 1189.2 L302.0 1186.9 L302.7 1184.5 L303.5 1182.2 L304.2 1179.8 L305.0 1177.4 L305.7 1175.0 L306.4 1172.7 L307.1 1170.3 L307.8 1167.9 L308.5 1165.5 L309.2 1163.1 L309.9 1160.7 L310.5 1158.3 L311.2 1156.0 L311.8 1153.6 L312.4 1151.2 L313.1 1148.7 L313.7 1146.3 L314.3 1143.9 L314.9 1141.5 L315.5 1139.1 L316.1 1136.7 L316.6 1134.3 L317.2 1131.9 L317.8 1129.4 L318.3 1127.0 L318.8 1124.6 L319.4 1122.2 L319.9 1119.7 L320.4 1117.3 L320.9 1114.9 L321.4 1112.4 L321.9 1110.0 L322.4 1107.5 L322.9 1105.1 L323.4 1102.6 L323.8 1100.2 L324.3 1097.7 L324.8 1095.3 L325.2 1092.8 L325.6 1090.4 L326.1 1087.9 L326.5 1085.5 L326.9 1083.0 L327.3 1080.5 L327.7 1078.1 L328.1 1075.6 L328.5 1073.2 L328.9 1070.7 L329.3 1068.2 L329.7 1065.7 L330.1 1063.3 L330.4 1060.8 L330.8 1058.3 L331.2 1055.8 L331.5 1053.4 L331.9 1050.9 L332.2 1048.4 L332.5 1045.9 L332.9 1043.4 L333.2 1041.0 L333.5 1038.5 L333.8 1036.0 L334.1 1033.5 L334.5 1031.0 L334.8 1028.5 L335.1 1026.0 L335.4 1023.5 L335.7 1021.0 L335.9 1018.5 L336.2 1016.0 L336.5 1013.5 L336.8 1011.0 L337.1 1008.6 L337.3 1006.1 L337.6 1003.6 L337.9 1001.1 L338.1 998.6 L338.4 996.1 L338.6 993.5 L338.9 991.0 L339.1 988.5 L339.4 986.0 L339.6 983.5 L339.9 981.0 L340.1 978.5 L340.4 976.0 L340.6 973.5 L340.8 971.0 L341.1 968.5 L341.3 966.0 L341.5 963.5 L341.7 961.0 L342.0 958.5 L342.2 956.0 L342.4 953.5 L342.6 950.9 L342.9 948.4 L343.1 945.9 L343.3 943.4 L343.5 940.9 L343.7 938.4 L343.9 935.9 L344.2 933.4 L344.4 930.9 L344.6 928.4 L344.8 925.9 L345.0 923.3 L345.2 920.8 L345.4 918.3 L345.6 915.8 L345.9 913.3 L346.1 910.8 L346.3 908.3 L346.5 905.8 L346.7 903.3 L346.9 900.8 L347.1 898.3 L347.4 895.8 L347.6 893.3 L347.8 890.8 L348.0 888.3 L348.2 885.8 L348.5 883.3 L348.7 880.8 L348.9 878.3 L349.1 875.8 L349.3 873.3 L349.6 870.8 L349.8 868.3 L350.0 865.8 L350.2 863.3 L350.5 860.8 L350.7 858.3 L350.9 855.8 L351.2 853.3 L351.4 850.8 L351.6 848.3 L351.9 845.8 L352.1 843.3 L352.3 840.8 L352.6 838.3 L352.8 835.8 L353.1 833.3 L353.3 830.8 L353.5 828.4 L353.8 825.9 L354.0 823.4 L354.3 820.9 L354.5 818.4 L354.8 815.9 L355.0 813.4 L355.3 810.9 L355.5 808.4 L355.8 806.0 L356.0 803.5 L356.3 801.0 L356.5 798.5 L356.8 796.0 L357.1 793.5 L357.3 791.0 L357.6 788.5 L357.8 786.1 L358.1 783.6 L358.4 781.1 L358.7 778.6 L358.9 776.1 L359.2 773.6 L359.5 771.2 L359.7 768.7 L360.0 766.2 L360.3 763.7 L360.6 761.2 L360.9 758.7 L361.1 756.3 L361.4 753.8 L361.7 751.3 L362.0 748.8 L362.3 746.3 L362.6 743.9 L362.9 741.4 L363.2 738.9 L363.4 736.4 L363.7 733.9 L364.0 731.5 L364.3 729.0 L364.6 726.5 L364.9 724.0 L365.3 721.6 L365.6 719.1 L365.9 716.6 L366.2 714.1 L366.5 711.6 L366.8 709.2 L367.1 706.7 L367.4 704.2 L367.8 701.7 L368.1 699.3 L368.4 696.8 L368.7 694.3 L369.1 691.8 L369.4 689.4 L369.7 686.9 L370.1 684.4 L370.4 681.9 L370.7 679.5 L371.1 677.0 L371.4 674.5 L371.8 672.0 L372.1 669.6 L372.5 667.1 L372.8 664.6 L373.2 662.2 L373.5 659.7 L373.9 657.2 L374.2 654.7 L374.6 652.3 L375.0 649.8 L375.3 647.3 L375.7 644.9 L376.1 642.4 L376.4 639.9 L376.8 637.4 L377.2 635.0 L377.6 632.5 L377.9 630.0 L378.3 627.6 L378.7 625.1 L379.1 622.6 L379.5 620.1 L379.9 617.7 L380.3 615.2 L380.7 612.7 L381.1 610.3 L381.5 607.8 L381.9 605.3 L382.3 602.8 L382.7 600.4 L383.1 597.9 L383.5 595.4 L384.0 593.0 L384.4 590.5 L384.8 588.0 L385.2 585.6 L385.7 583.1 L386.1 580.6 L386.5 578.1 L387.0 575.7 L387.4 573.2 L387.8 570.7 L388.3 568.3 L388.7 565.8 L389.2 563.3 L389.6 560.9 L390.1 558.4 L390.5 555.9 L391.0 553.5 L391.5 551.0 L391.9 548.5 L392.4 546.0 L392.9 543.6 L393.3 541.1 L393.8 538.6 L394.3 536.2 L394.8 533.7 L395.3 531.2 L395.8 528.8 L396.3 526.3 L396.8 523.8 L397.3 521.3 L397.8 518.9 L398.3 516.4 L398.8 513.9 L399.3 511.5 L399.8 509.0 L400.3 506.5 L400.8 504.1 L401.3 501.6 L401.9 499.1 L402.4 496.6 L402.9 494.2 L403.5 491.7 L404.0 489.2 L404.6 486.8 L405.1 484.3 L405.7 481.8 L406.2 479.4 L406.8 476.9 L407.4 474.5 L408.0 472.0 L408.6 469.6 L409.2 467.1 L409.9 464.7 L410.5 462.3 L411.2 459.8 L411.8 457.4 L412.5 455.0 L413.2 452.6 L413.9 450.2 L414.7 447.8 L415.4 445.4 L416.2 443.0 L417.0 440.6 L417.8 438.3 L418.6 435.9 L419.5 433.6 L420.3 431.2 L421.2 428.9 L422.1 426.6 L423.1 424.3 L424.0 422.0 L425.0 419.7 L426.0 417.4 L427.0 415.2 L428.1 412.9 L429.2 410.7 L430.3 408.5 L431.4 406.3 L432.6 404.1 L433.8 401.9 L435.0 399.7 L436.3 397.6 L437.6 395.5 L438.9 393.3 L440.2 391.2 L441.6 389.2 L442.9 387.1 L444.4 385.1 L445.8 383.0 L447.3 381.0 L448.7 379.0 L450.3 377.0 L451.8 375.1 L453.4 373.2 L455.0 371.3 L456.6 369.4 L458.2 367.5 L459.9 365.6 L461.6 363.8 L463.3 362.0 L465.0 360.2 L466.8 358.5 L468.6 356.8 L470.4 355.1 L472.2 353.4 L474.0 351.7 L475.9 350.1 L477.8 348.5 L479.7 346.9 L481.7 345.4 L483.6 343.8 L485.6 342.3 L487.6 340.9 L489.7 339.4 L491.7 338.0 L493.8 336.7 L495.9 335.3 L498.0 334.0 L500.1 332.7 L502.3 331.5 L504.4 330.2 L506.6 329.0 L508.8 327.9 L511.0 326.8 L513.3 325.6 L515.5 324.6 L517.8 323.5 L520.1 322.5 L522.4 321.5 L524.7 320.5 L527.0 319.5 L529.4 318.6 L531.7 317.6 L534.1 316.7 L536.4 315.8 L538.8 314.9 L541.2 314.0 L543.6 313.2 L546.0 312.3 L548.3 311.5 L550.7 310.6 L553.1 309.8 L555.5 308.9 L557.9 308.1 L560.3 307.2 L562.7 306.4 L565.1 305.5 L567.5 304.7 L569.9 303.8 L572.2 303.0 L574.6 302.1 L577.0 301.2 L579.3 300.3 L581.7 299.4 L584.1 298.5 L586.4 297.6 L588.7 296.7 L591.1 295.8 L593.4 294.9 L595.7 294.0 L598.1 293.0 L600.4 292.1 L602.7 291.2 L605.0 290.2 L607.4 289.3 L609.7 288.3 L612.0 287.4 L614.3 286.4 L616.6 285.4 L618.9 284.5 L621.2 283.5 L623.5 282.5 L625.8 281.6 L628.1 280.6 L630.4 279.6 L632.7 278.6 L635.0 277.6 L637.3 276.6 L639.6 275.6 L641.8 274.7 L644.1 273.7 L646.4 272.7 L648.7 271.7 L651.0 270.7 L653.3 269.7 L655.6 268.7 L657.9 267.7 L660.2 266.7 L662.4 265.7 L664.7 264.7 L667.0 263.7 L669.3 262.6 L671.6 261.6 L673.9 260.6 L676.2 259.6 L678.4 258.6 L680.7 257.6 L683.0 256.6 L685.3 255.6 L687.6 254.6 L689.9 253.6 L692.2 252.5 L694.4 251.5 L696.7 250.5 L699.0 249.5 L701.3 248.5 L703.6 247.5 L705.9 246.5 L708.2 245.5 L710.4 244.4 L712.7 243.4 L715.0 242.4 L717.3 241.4 L719.6 240.4 L721.9 239.4 L724.2 238.4 L726.5 237.4 L728.8 236.4 L731.1 235.4 L733.3 234.4 L735.6 233.4 L737.9 232.4 L740.2 231.4 L742.5 230.4 L744.8 229.4 L747.1 228.4 L749.4 227.4 L751.7 226.4 L754.0 225.4 L756.3 224.4 L758.6 223.4 L760.9 222.4 L763.2 221.4 L765.5 220.4 L767.8 219.5 L770.1 218.5 L772.5 217.5 L774.8 216.5 L777.1 215.6 L779.4 214.6 L781.7 213.6 L784.0 212.6 L786.3 211.7 L788.6 210.7 L790.9 209.7 L793.3 208.8 L795.6 207.8 L797.9 206.9 L800.2 205.9 L802.5 205.0 L804.8 204.0 L807.2 203.1 L809.5 202.1 L811.8 201.2 L814.1 200.2 L816.5 199.3 L818.8 198.3 L821.1 197.4 L823.4 196.5 L825.8 195.6 L828.1 194.6 L830.4 193.7 L832.8 192.8 L835.1 191.9 L837.4 191.0 L839.8 190.0 L842.1 189.1 L844.4 188.2 L846.8 187.3 L849.1 186.4 L851.4 185.5 L853.8 184.6 L856.1 183.7 L858.5 182.9 L860.8 182.0 L863.2 181.1 L865.5 180.2 L867.9 179.3 L870.2 178.5 L872.5 177.6 L874.9 176.7 L877.2 175.9 L879.6 175.0 L882.0 174.2 L884.3 173.3 L886.7 172.5 L889.0 171.6 L891.4 170.8 L893.7 169.9 L896.1 169.1 L898.5 168.3 L900.8 167.4 L903.2 166.6 L905.5 165.8 L907.9 165.0 L910.3 164.2 L912.6 163.4 L915.0 162.6 L917.4 161.8 L919.7 161.0 L922.1 160.2 L924.5 159.4 L926.9 158.6 L929.2 157.8 L931.6 157.1 L934.0 156.3 L936.4 155.5 L938.7 154.8 C943.9 154.9 963.9 154.7 970.0 155.5 C976.1 156.3 973.8 157.1 975.5 159.5 C977.2 161.9 978.7 166.2 980.0 170.0 C981.3 173.8 982.3 177.5 983.5 182.0 C984.7 186.5 985.9 192.2 987.0 197.0 C988.1 201.8 988.7 203.9 990.3 211.0 C991.9 218.1 994.6 228.7 996.4 239.6 C998.2 250.5 999.8 266.1 1001.2 276.2 C1002.6 286.3 1003.9 292.4 1004.9 300.5 C1005.9 308.6 1006.9 320.8 1007.3 324.9" fill="none" stroke="#2468e2" stroke-width="7.5" stroke-linejoin="round" stroke-linecap="round"/>
</g>
<g fill="#000" font-size="68"><text transform="translate(265 1234.8) scale(1 1.05)" text-anchor="end">0</text><text transform="translate(265 1050.6) scale(1 1.05)" text-anchor="end">200</text><text transform="translate(265 866.4) scale(1 1.05)" text-anchor="end">400</text><text transform="translate(265 682.3) scale(1 1.05)" text-anchor="end">600</text><text transform="translate(265 498.1) scale(1 1.05)" text-anchor="end">800</text><text transform="translate(265 313.9) scale(1 1.05)" text-anchor="end">1000</text><text transform="translate(265 129.7) scale(1 1.05)" text-anchor="end">1200</text><text transform="translate(289.6 1292.3) scale(1 1.05)" text-anchor="middle">0</text><text transform="translate(540.0 1292.3) scale(1 1.05)" text-anchor="middle">10</text><text transform="translate(790.4 1292.3) scale(1 1.05)" text-anchor="middle">20</text><text transform="translate(1040.8 1292.3) scale(1 1.05)" text-anchor="middle">30</text><text transform="translate(1291.2 1292.3) scale(1 1.05)" text-anchor="middle">40</text><text transform="translate(1541.6 1292.3) scale(1 1.05)" text-anchor="middle">50</text><text transform="translate(1792.0 1292.3) scale(1 1.05)" text-anchor="middle">60</text></g>
<text x="742" y="1403.7" font-size="68.6" fill="#000">Engineering strain /%</text>
<text transform="translate(56,581) rotate(-90)" text-anchor="middle" font-size="68" fill="#000">Engineering stress /MPa</text>
<line x1="1250" y1="57.3" x2="1376" y2="57.3" stroke="#fb8617" stroke-width="7" stroke-linecap="round"/><text x="1391.5" y="75.9" font-size="57" fill="#000">Al<tspan font-size="38" dy="14">0.1</tspan><tspan dy="-14">Cr</tspan><tspan font-size="38" dy="14">0.9</tspan><tspan dy="-14">CoFeNi</tspan></text><line x1="1250" y1="139.2" x2="1376" y2="139.2" stroke="#49b34a" stroke-width="7" stroke-linecap="round"/><text x="1391.5" y="157.8" font-size="57" fill="#000">Al<tspan font-size="38" dy="14">0.2</tspan><tspan dy="-14">Cr</tspan><tspan font-size="38" dy="14">0.8</tspan><tspan dy="-14">CoFeNi</tspan></text><line x1="1250" y1="221.2" x2="1376" y2="221.2" stroke="#8063a9" stroke-width="7" stroke-linecap="round"/><text x="1391.5" y="239.8" font-size="57" fill="#000">Al<tspan font-size="38" dy="14">0.3</tspan><tspan dy="-14">Cr</tspan><tspan font-size="38" dy="14">0.7</tspan><tspan dy="-14">CoFeNi</tspan></text><line x1="1250" y1="303.2" x2="1376" y2="303.2" stroke="#ffff14" stroke-width="7" stroke-linecap="round"/><text x="1391.5" y="321.8" font-size="57" fill="#000">Al<tspan font-size="38" dy="14">0.4</tspan><tspan dy="-14">Cr</tspan><tspan font-size="38" dy="14">0.6</tspan><tspan dy="-14">CoFeNi</tspan></text><line x1="1250" y1="385.1" x2="1376" y2="385.1" stroke="#2468e2" stroke-width="7" stroke-linecap="round"/><text x="1391.5" y="403.7" font-size="57" fill="#000">Al<tspan font-size="38" dy="14">0.5</tspan><tspan dy="-14">Cr</tspan><tspan font-size="38" dy="14">0.5</tspan><tspan dy="-14">CoFeNi</tspan></text>
</svg></body></html>
